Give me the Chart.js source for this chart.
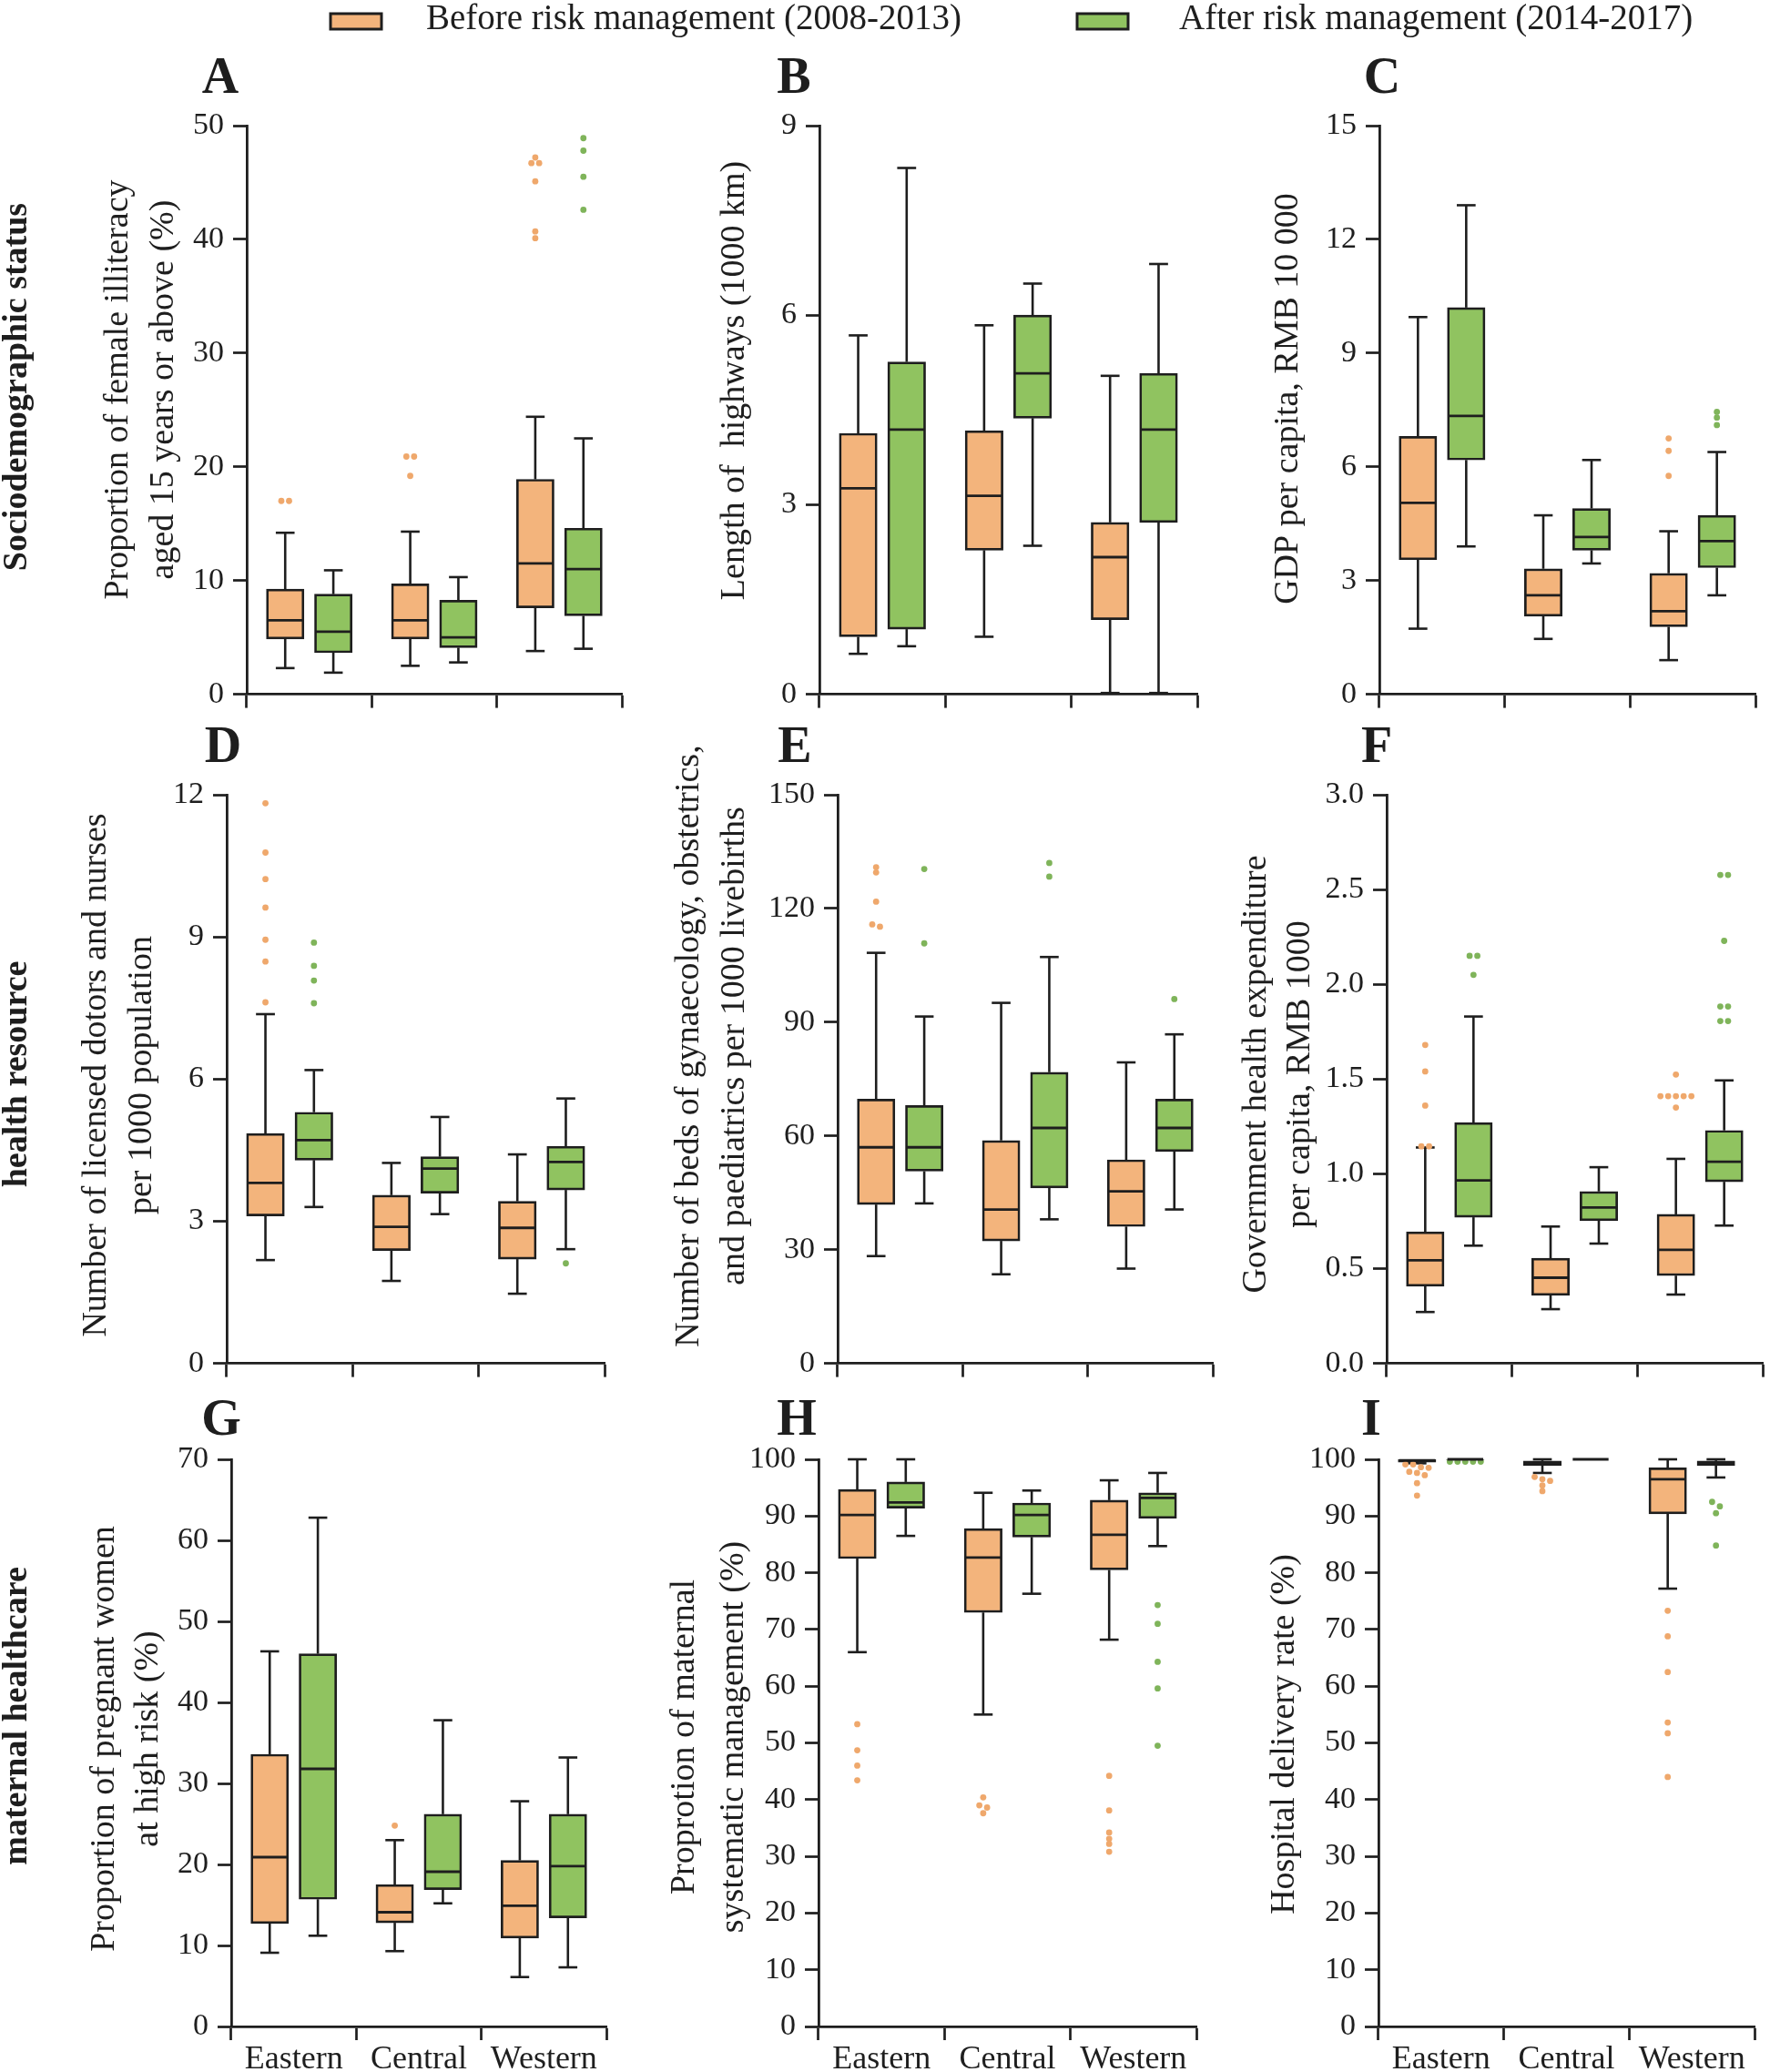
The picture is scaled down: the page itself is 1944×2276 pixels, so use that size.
<!DOCTYPE html>
<html>
<head>
<meta charset="utf-8">
<script src="https://cdn.jsdelivr.net/npm/chart.js@4.4.1/dist/chart.umd.min.js"></script>
<style>
html,body{margin:0;padding:0;background:#ffffff;}
body{width:1944px;height:2276px;position:relative;overflow:hidden;}
canvas{position:absolute;}
</style>
</head>
<body>
<canvas id="legend"></canvas>
<canvas id="cA"></canvas><canvas id="cB"></canvas><canvas id="cC"></canvas>
<canvas id="cD"></canvas><canvas id="cE"></canvas><canvas id="cF"></canvas>
<canvas id="cG"></canvas><canvas id="cH"></canvas><canvas id="cI"></canvas>
<script>
// ---------------- DATA ----------------
const regions = ['Eastern', 'Central', 'Western'];
const seriesLabels = ['Before risk management (2008-2013)', 'After risk management (2014-2017)'];
const rowLabels = ['Sociodemographic status', 'health resource', 'maternal healthcare'];

// each row: [min, Q1, median, Q3, max] for Eastern, Central, Western
// A: female illiteracy (%)
const A_axis = [0, 50, 10];
const A_before = [[2.3, 4.86, 6.5, 9.24, 14.2], [2.5, 4.86, 6.5, 9.7, 14.3], [3.8, 7.6, 11.5, 18.9, 24.4]];
const A_after  = [[1.9, 3.65, 5.5, 8.8, 10.9], [2.8, 4.1, 5.0, 8.26, 10.3], [4.0, 6.9, 11.0, 14.6, 22.5]];
const A_before_out = [[17.0, 17.0], [20.9, 20.9, 19.2], [47.2, 46.7, 46.7, 45.1, 40.7, 40.1]];
const A_after_out  = [[], [], [48.9, 47.8, 45.5, 42.6]];

// B: length of highways (1000 km)
const B_axis = [0, 9, 3];
const B_before = [[0.64, 0.91, 3.26, 4.13, 5.68], [0.91, 2.28, 3.14, 4.17, 5.84], [0.02, 1.18, 2.17, 2.72, 5.04]];
const B_after  = [[0.76, 1.03, 4.19, 5.26, 8.33], [2.35, 4.37, 5.08, 6.0, 6.5], [0.02, 2.72, 4.19, 5.08, 6.81]];
const B_before_out = [[], [], []];
const B_after_out  = [[], [], []];

// C: GDP per capita (RMB 10 000)
const C_axis = [0, 15, 3];
const C_before = [[1.73, 3.55, 5.05, 6.8, 9.95], [1.46, 2.06, 2.61, 3.31, 4.72], [0.9, 1.78, 2.19, 3.19, 4.3]];
const C_after  = [[3.9, 6.18, 7.34, 10.2, 12.9], [3.45, 3.8, 4.15, 4.9, 6.18], [2.61, 3.34, 4.04, 4.72, 6.39]];
const C_before_out = [[], [], [6.75, 6.42, 5.76]];
const C_after_out  = [[], [], [7.45, 7.3, 7.1]];

// D: licensed doctors and nurses per 1000 population
const D_axis = [0, 12, 3];
const D_before = [[2.18, 3.11, 3.81, 4.85, 7.37], [1.74, 2.38, 2.88, 3.55, 4.23], [1.47, 2.2, 2.86, 3.42, 4.41]];
const D_after  = [[3.3, 4.29, 4.71, 5.3, 6.19], [3.15, 3.59, 4.11, 4.36, 5.2], [2.41, 3.66, 4.25, 4.58, 5.59]];
const D_before_out = [[11.82, 10.78, 10.22, 9.62, 8.94, 8.48, 7.62], [], []];
const D_after_out  = [[8.88, 8.39, 8.08, 7.6], [], [2.11]];

// E: beds per 1000 livebirths
const E_axis = [0, 150, 30];
const E_before = [[28.3, 41.9, 57.0, 69.7, 108.3], [23.5, 32.3, 40.6, 58.8, 95.1], [25.0, 36.1, 45.4, 53.7, 79.4]];
const E_after  = [[42.2, 50.7, 57.0, 68.0, 91.5], [38.0, 46.3, 62.1, 76.8, 107.2], [40.6, 55.9, 62.1, 69.7, 86.8]];
const E_before_out = [[130.9, 129.5, 121.8, 115.8, 115.2], [], []];
const E_after_out  = [[130.4, 110.8], [132.0, 128.4], [96.1]];

// F: government health expenditure per capita (RMB 1000)
const F_axis = [0, 3, 0.5];
const F_before = [[0.271, 0.407, 0.544, 0.694, 1.139], [0.286, 0.359, 0.452, 0.555, 0.722], [0.363, 0.463, 0.599, 0.786, 1.079]];
const F_after  = [[0.621, 0.771, 0.965, 1.27, 1.83], [0.632, 0.753, 0.822, 0.907, 1.035], [0.727, 0.958, 1.064, 1.229, 1.493]];
const F_before_out = [[1.68, 1.54, 1.36, 1.145, 1.145], [], [1.524, 1.41, 1.41, 1.41, 1.41, 1.41, 1.35]];
const F_after_out  = [[2.15, 2.15, 2.05], [], [2.577, 2.577, 2.229, 1.883, 1.883, 1.806, 1.806]];

// G: pregnant women at high risk (%)
const G_axis = [0, 70, 10];
const G_before = [[9.1, 12.7, 20.9, 33.6, 46.3], [9.3, 12.8, 14.1, 17.5, 23.0], [6.1, 10.9, 14.9, 20.5, 27.8]];
const G_after  = [[11.2, 15.7, 31.8, 46.0, 62.8], [15.2, 16.9, 19.1, 26.2, 37.8], [7.3, 13.4, 19.8, 26.2, 33.2]];
const G_before_out = [[], [24.8], []];
const G_after_out  = [[], [], []];

// H: maternal systematic management (%)
const H_axis = [0, 100, 10];
const H_before = [[66.0, 82.5, 90.2, 94.7, 100], [55.0, 73.0, 82.7, 87.8, 94.1], [68.2, 80.5, 86.7, 92.8, 96.3]];
const H_after  = [[86.5, 91.4, 92.4, 96.0, 100], [76.3, 86.3, 90.2, 92.3, 94.5], [84.7, 89.6, 93.2, 94.1, 97.6]];
const H_before_out = [[53.3, 48.7, 46.0, 43.4], [40.4, 39.0, 38.6, 37.6], [44.2, 38.1, 34.2, 33.1, 32.2, 30.8]];
const H_after_out  = [[], [], [74.3, 71.0, 64.3, 59.6, 49.5]];

// I: hospital delivery rate (%)
const I_axis = [0, 100, 10];
const I_before = [[99.3, 99.5, 99.8, 100, 100], [97.6, 98.9, 99.3, 99.7, 100], [77.2, 90.4, 96.5, 98.5, 100]];
const I_after  = [[99.9, 99.95, 100, 100, 100], [100, 100, 100, 100, 100], [96.8, 98.9, 99.4, 99.7, 100]];
const I_before_out = [[99.1, 99.1, 98.6, 98.5, 97.8, 97.6, 97.2, 95.8, 93.6], [96.9, 96.5, 96.2, 95.4, 94.4], [73.3, 68.8, 62.5, 53.6, 51.7, 44.0]];
const I_after_out  = [[99.6, 99.6, 99.6, 99.6, 99.6], [], [92.5, 91.7, 90.5, 84.8]];

// axis titles
const A_title = ['Proportion of female illiteracy', 'aged 15 years or above (%)'];
const B_title = ['Length of  highways (1000 km)'];
const C_title = ['GDP per capita, RMB 10 000'];
const D_title = ['Number of licensed dotors and nurses', 'per 1000 population'];
const E_title = ['Number of beds of gynaecology, obstetrics,', 'and paediatrics per 1000 livebirths'];
const F_title = ['Government health expenditure', 'per capita, RMB 1000'];
const G_title = ['Proportion of pregnant women', 'at high risk (%)'];
const H_title = ['Proprotion of maternal', 'systematic management (%)'];
const I_title = ['Hospital delivery rate (%)'];

// ---------------- STYLE / LAYOUT ----------------
const FONT = "'Liberation Serif', 'Times New Roman', serif";
const INK = '#1e1e1e';
const ORANGE = '#F3B47C', GREEN = '#90C360';
const ORANGE_DOT = '#EFA86C', GREEN_DOT = '#7FB45A';
const CP = 0.77, BP = 0.78;   // share of a category used by the pair, share of a slot used by a box
const TICK_FONT = 34, XLABEL_FONT = 36, TITLE_FONT = 38;

Chart.defaults.font.family = FONT;
Chart.defaults.color = INK;

const LAYOUT = {
  A: {left: 0,    axisX: 271,  rightX: 683,  topY: 138,  zeroY: 763,  hx: 30, letterX: 242,  letterY: 102,  titleX: 130,  titleY: 428,  gap: 50, row: 0, rowY: 425},
  B: {left: 700,  axisX: 900,  rightX: 1315, topY: 138,  zeroY: 763,  hx: 30, letterX: 872,  letterY: 102,  titleX: 807,  titleY: 418,  gap: 50},
  C: {left: 1330, axisX: 1515, rightX: 1928, topY: 138,  zeroY: 763,  hx: 30, letterX: 1518, letterY: 102,  titleX: 1415, titleY: 438,  gap: 50},
  D: {left: 0,    axisX: 249,  rightX: 664,  topY: 873,  zeroY: 1498, hx: 30, letterX: 245,  letterY: 837,  titleX: 106,  titleY: 1181, gap: 50, row: 1, rowY: 1180},
  E: {left: 700,  axisX: 920,  rightX: 1332, topY: 873,  zeroY: 1498, hx: 30, letterX: 873,  letterY: 837,  titleX: 757,  titleY: 1149, gap: 50},
  F: {left: 1330, axisX: 1523, rightX: 1936, topY: 873,  zeroY: 1498, hx: 30, letterX: 1512, letterY: 837,  titleX: 1380, titleY: 1180, gap: 48},
  G: {left: 0,    axisX: 254,  rightX: 666,  topY: 1603, zeroY: 2226, hx: 50, letterX: 243,  letterY: 1576, titleX: 115,  titleY: 1910, gap: 48, row: 2, rowY: 1885},
  H: {left: 700,  axisX: 899,  rightX: 1314, topY: 1603, zeroY: 2226, hx: 50, letterX: 875,  letterY: 1576, titleX: 752,  titleY: 1908, gap: 54},
  I: {left: 1330, axisX: 1514, rightX: 1927, topY: 1603, zeroY: 2226, hx: 50, letterX: 1506, letterY: 1576, titleX: 1411, titleY: 1905, gap: 50}
};

const PANELS = [
  {key: 'A', axis: A_axis, before: A_before, after: A_after, outB: A_before_out, outA: A_after_out, title: A_title},
  {key: 'B', axis: B_axis, before: B_before, after: B_after, outB: B_before_out, outA: B_after_out, title: B_title},
  {key: 'C', axis: C_axis, before: C_before, after: C_after, outB: C_before_out, outA: C_after_out, title: C_title},
  {key: 'D', axis: D_axis, before: D_before, after: D_after, outB: D_before_out, outA: D_after_out, title: D_title},
  {key: 'E', axis: E_axis, before: E_before, after: E_after, outB: E_before_out, outA: E_after_out, title: E_title},
  {key: 'F', axis: F_axis, before: F_before, after: F_after, outB: F_before_out, outA: F_after_out, title: F_title, decimals: 1},
  {key: 'G', axis: G_axis, before: G_before, after: G_after, outB: G_before_out, outA: G_after_out, title: G_title, xLabels: true},
  {key: 'H', axis: H_axis, before: H_before, after: H_after, outB: H_before_out, outA: H_after_out, title: H_title, xLabels: true},
  {key: 'I', axis: I_axis, before: I_before, after: I_after, outB: I_before_out, outA: I_after_out, title: I_title, xLabels: true}
];

const seriesShift = i => (i === 0 ? -1 : 1) * CP / 4;   // box centre offset inside a category (index units)

function boxData(stats, seriesIdx) {
  return stats.map((s, ci) => ({x: ci + seriesShift(seriesIdx), y: [s[1], s[3]]}));
}

// outliers: equal values are spread side by side
function outlierPoints(outs, seriesIdx, range, jit) {
  const pts = [];
  outs.forEach((vals, ci) => {
    const groups = [];
    vals.forEach(v => {
      const g = groups.find(gr => Math.abs(gr.v - v) < range * 0.008);
      if (g) g.items.push(v); else groups.push({v: v, items: [v]});
    });
    groups.forEach(g => {
      const n = g.items.length;
      g.items.forEach((v, k) => pts.push({x: ci + seriesShift(seriesIdx) + (k - (n - 1) / 2) * jit, y: v}));
    });
  });
  return pts;
}

function line(ctx, x1, y1, x2, y2) {
  ctx.beginPath(); ctx.moveTo(x1, y1); ctx.lineTo(x2, y2); ctx.stroke();
}

function drawWhiskers(chart) {
  const ctx = chart.ctx, ys = chart.scales.y;
  ctx.save();
  ctx.strokeStyle = INK; ctx.lineWidth = 2.6; ctx.lineCap = 'butt';
  chart.data.datasets.forEach((ds, di) => {
    if (!ds.boxStats) return;
    chart.getDatasetMeta(di).data.forEach((el, j) => {
      const s = ds.boxStats[j];
      const {x, width} = el.getProps(['x', 'width'], true);
      const cap = width * 0.5;
      const yMin = ys.getPixelForValue(s[0]), yQ1 = ys.getPixelForValue(s[1]);
      const yQ3 = ys.getPixelForValue(s[3]), yMax = ys.getPixelForValue(s[4]);
      if (yQ3 - yMax > 0.5) { line(ctx, x, yQ3, x, yMax); line(ctx, x - cap / 2, yMax, x + cap / 2, yMax); }
      if (yMin - yQ1 > 0.5) { line(ctx, x, yQ1, x, yMin); line(ctx, x - cap / 2, yMin, x + cap / 2, yMin); }
    });
  });
  ctx.restore();
}

function drawMedians(chart) {
  const ctx = chart.ctx, ys = chart.scales.y;
  ctx.save();
  ctx.strokeStyle = INK; ctx.lineWidth = 2.8;
  chart.data.datasets.forEach((ds, di) => {
    if (!ds.boxStats) return;
    chart.getDatasetMeta(di).data.forEach((el, j) => {
      const s = ds.boxStats[j];
      const {x, width} = el.getProps(['x', 'width'], true);
      const yMed = ys.getPixelForValue(s[2]);
      line(ctx, x - width / 2 + 1, yMed, x + width / 2 - 1, yMed);
    });
  });
  ctx.restore();
}

function drawDecor(chart, G, p) {
  const ctx = chart.ctx;
  ctx.save();
  ctx.fillStyle = INK;
  ctx.textAlign = 'center';
  ctx.textBaseline = 'alphabetic';
  ctx.font = 'bold 56px ' + FONT;
  ctx.fillText(p.key, G.letterX - G.left, G.letterY - G.top);
  ctx.textBaseline = 'middle';
  ctx.font = TITLE_FONT + 'px ' + FONT;
  p.title.forEach((txt, i) => {
    ctx.save();
    ctx.translate(G.titleX - G.left + i * G.gap, G.titleY - G.top);
    ctx.rotate(-Math.PI / 2);
    ctx.fillText(txt, 0, 0);
    ctx.restore();
  });
  if (G.row !== undefined) {
    ctx.font = 'bold 38px ' + FONT;
    ctx.save();
    ctx.translate(19.5 - G.left, G.rowY - G.top);
    ctx.rotate(-Math.PI / 2);
    ctx.fillText(rowLabels[G.row], 0, 0);
    ctx.restore();
  }
  ctx.restore();
}

function makePanel(p) {
  const G = LAYOUT[p.key];
  const padR = Math.min(12, 1944 - G.rightX);
  G.top = G.topY - 100;
  const W = G.rightX + padR - G.left;
  const H = (G.zeroY - G.topY) + 100 + G.hx;
  const cv = document.getElementById('c' + p.key);
  cv.width = W; cv.height = Math.round(H);
  cv.style.left = G.left + 'px'; cv.style.top = G.top + 'px';
  const range = p.axis[1] - p.axis[0];
  const catW = (G.rightX - G.axisX) / 3;
  const jit = 8.5 / catW;
  const boxW = catW * CP / 2 * BP;
  const barCommon = {type: 'bar', xAxisID: 'x', yAxisID: 'y', grouped: false, barThickness: boxW,
                     borderColor: INK, borderWidth: 2.7, borderSkipped: false};
  const dotCommon = {type: 'scatter', xAxisID: 'x', yAxisID: 'y', pointRadius: 3.4, pointBorderWidth: 0, pointHoverRadius: 3.4};
  new Chart(cv, {
    type: 'bar',
    data: {
      labels: regions,
      datasets: [
        Object.assign({label: seriesLabels[0] + ' outliers', data: outlierPoints(p.outB, 0, range, jit),
          backgroundColor: ORANGE_DOT, borderColor: ORANGE_DOT}, dotCommon),
        Object.assign({label: seriesLabels[1] + ' outliers', data: outlierPoints(p.outA, 1, range, jit),
          backgroundColor: GREEN_DOT, borderColor: GREEN_DOT}, dotCommon),
        Object.assign({label: seriesLabels[0], data: boxData(p.before, 0), boxStats: p.before,
          backgroundColor: ORANGE}, barCommon),
        Object.assign({label: seriesLabels[1], data: boxData(p.after, 1), boxStats: p.after,
          backgroundColor: GREEN}, barCommon)
      ]
    },
    options: {
      responsive: false, animation: false, events: [],
      layout: {padding: {top: 100, right: padR, left: 0, bottom: 0}},
      plugins: {legend: {display: false}, tooltip: {enabled: false}, title: {display: false}},
      scales: {
        x: {type: 'linear', display: false, offset: false, min: -0.5, max: 2.5, grid: {offset: false}},
        xc: {
          type: 'category', position: 'bottom', labels: regions, offset: true,
          grid: {offset: true, drawOnChartArea: false, drawTicks: true, tickLength: 15, tickWidth: 2.7, tickColor: INK},
          border: {display: true, color: INK, width: 2.8},
          ticks: {display: !!p.xLabels, font: {size: XLABEL_FONT}, color: INK, padding: 0, maxRotation: 0, autoSkip: false},
          afterFit: s => { s.height = G.hx; }
        },
        y: {
          type: 'linear', min: p.axis[0], max: p.axis[1],
          ticks: {stepSize: p.axis[2], font: {size: TICK_FONT}, color: INK, padding: 10,
                  callback: v => p.decimals ? Number(v).toFixed(p.decimals) : String(v)},
          grid: {drawOnChartArea: false, drawTicks: true, tickLength: 15, tickWidth: 2.7, tickColor: INK},
          border: {display: true, color: INK, width: 2.8},
          afterFit: s => { s.width = G.axisX - G.left; }
        }
      }
    },
    plugins: [{
      id: 'boxplot' + p.key,
      beforeDatasetsDraw: chart => drawWhiskers(chart),
      afterDatasetsDraw: chart => drawMedians(chart),
      afterDraw: chart => drawDecor(chart, G, p)
    }]
  });
}

PANELS.forEach(makePanel);

// ---------------- LEGEND ----------------
const LEGEND_POS = [
  {sx: 363, sy: 15, sw: 56, sh: 17, tx: 468, ty: 22},
  {sx: 1183, sy: 15, sw: 56, sh: 17, tx: 1295, ty: 22}
];
const lc = document.getElementById('legend');
lc.width = 1944; lc.height = 50;
lc.style.left = '0px'; lc.style.top = '0px';
new Chart(lc, {
  type: 'bar',
  data: {labels: [], datasets: [
    {label: seriesLabels[0], data: [], backgroundColor: ORANGE},
    {label: seriesLabels[1], data: [], backgroundColor: GREEN}
  ]},
  options: {
    responsive: false, animation: false, events: [],
    plugins: {legend: {display: false}, tooltip: {enabled: false}},
    scales: {x: {display: false}, y: {display: false}}
  },
  plugins: [{
    id: 'swatchLegend',
    afterDraw(chart) {
      const ctx = chart.ctx;
      ctx.save();
      chart.data.datasets.forEach((ds, i) => {
        const L = LEGEND_POS[i];
        ctx.fillStyle = ds.backgroundColor;
        ctx.fillRect(L.sx, L.sy, L.sw, L.sh);
        ctx.lineWidth = 3; ctx.strokeStyle = INK;
        ctx.strokeRect(L.sx, L.sy, L.sw, L.sh);
        ctx.fillStyle = INK;
        ctx.font = '39px ' + FONT;
        ctx.textAlign = 'left'; ctx.textBaseline = 'middle';
        ctx.fillText(ds.label, L.tx, L.ty);
      });
      ctx.restore();
    }
  }]
});
</script>
</body>
</html>
